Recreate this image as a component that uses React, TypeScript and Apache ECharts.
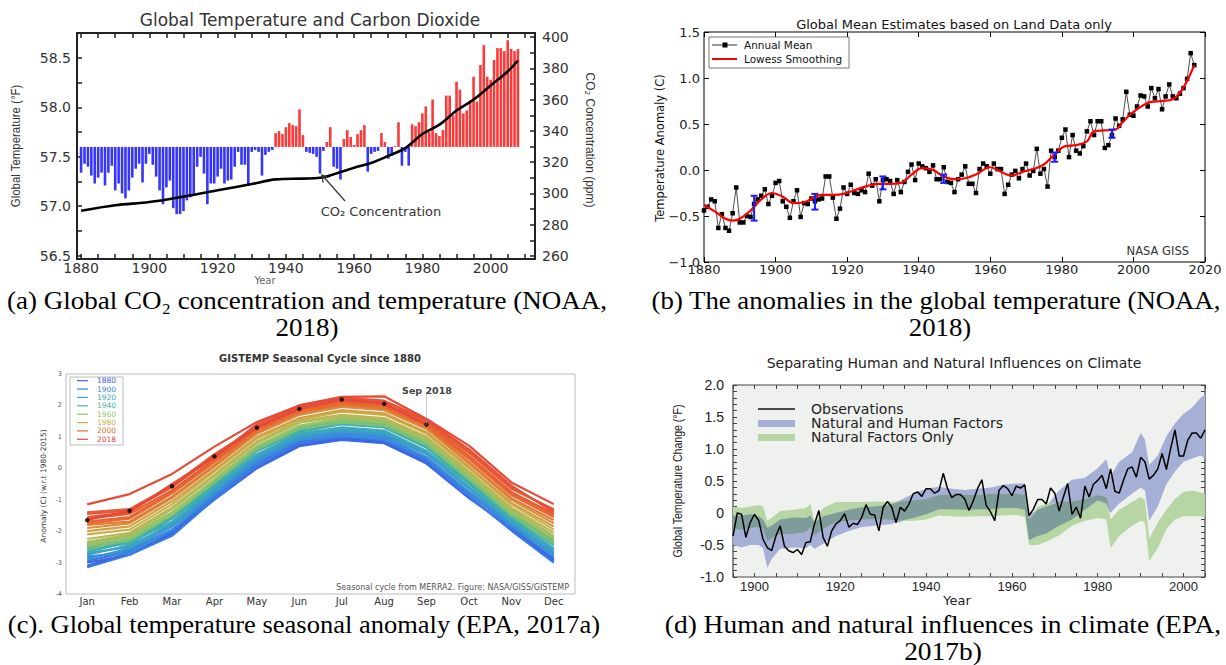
import React, { useEffect, useRef } from 'react';
import * as echarts from 'echarts';

const SANS = '"Liberation Sans", Arial, sans-serif';
const DJV = '"DejaVu Sans", sans-serif';
const SERIF = '"Liberation Serif", "Times New Roman", serif';

// ================= (a) Global temperature and CO2 =================
const aFirstYear = 1880;
const aBaselineF = 57.6;
const aTempAnomalyF = [
  -0.26, -0.17, -0.2, -0.29, -0.37, -0.31, -0.26, -0.39, -0.26, -0.19,
  -0.44, -0.37, -0.47, -0.52, -0.44, -0.31, -0.22, -0.17, -0.36, -0.17,
  -0.07, -0.18, -0.3, -0.44, -0.58, -0.41, -0.34, -0.62, -0.68, -0.68,
  -0.65, -0.54, -0.51, -0.49, -0.2, -0.1, -0.27, -0.58, -0.37, -0.37,
  -0.3, -0.22, -0.37, -0.34, -0.33, -0.2, -0.05, -0.18, -0.18, -0.39,
  -0.05, -0.03, -0.05, -0.29, -0.08, -0.05, -0.03, 0.14, 0.16, 0.13,
  0.2, 0.24, 0.22, 0.21, 0.38, 0.12, -0.05, -0.06, -0.07, -0.1,
  -0.27, -0.04, 0.05, 0.2, -0.2, -0.22, -0.33, 0.08, 0.17, 0.1,
  0.02, 0.13, 0.17, 0.22, -0.25, -0.07, -0.05, -0.04, 0.14, 0.05,
  -0.12, -0.09, 0.01, 0.25, -0.19, -0.05, -0.19, 0.23, 0.21, 0.25,
  0.34, 0.41, 0.15, 0.48, 0.14, 0.11, 0.17, 0.52, 0.52, 0.32,
  0.66, 0.58, 0.34, 0.37, 0.47, 0.71, 0.46, 0.83, 1.03, 0.71,
  0.68, 0.88, 1.0, 1.0, 0.97, 1.08, 0.99, 0.97, 0.99,
];
const aCo2Years = [1880, 1890, 1900, 1910, 1920, 1930, 1937, 1945, 1950, 1955, 1960, 1965, 1970, 1975, 1980, 1985, 1990, 1995, 2000, 2005, 2008];
const aCo2Ppm = [289, 292.5, 294.5, 298, 302, 306, 309, 309.5, 310, 313, 316.5, 319.5, 324, 329, 338, 344, 353, 360, 369, 378, 385];
const aYearLabels = [1880, 1900, 1920, 1940, 1960, 1980, 2000];
const aTempLabels = [56.5, 57.0, 57.5, 58.0, 58.5];
const aCo2Labels = [260, 280, 300, 320, 340, 360, 380, 400];

// ================= (b) Land-only global mean =================
const bFirstYear = 1880;
const bAnnualMean = [
  -0.44, -0.4, -0.32, -0.34, -0.63, -0.48, -0.63, -0.66, -0.47, -0.19,
  -0.57, -0.57, -0.5, -0.51, -0.37, -0.32, -0.28, -0.21, -0.37, -0.28,
  -0.14, -0.12, -0.34, -0.4, -0.52, -0.34, -0.22, -0.51, -0.36, -0.37,
  -0.31, -0.34, -0.32, -0.31, -0.07, -0.07, -0.3, -0.53, -0.42, -0.19,
  -0.26, -0.16, -0.25, -0.26, -0.22, -0.24, -0.04, -0.17, -0.1, -0.34,
  -0.11, -0.1, -0.12, -0.26, -0.11, -0.24, -0.13, -0.02, 0.06, -0.11,
  0.07, 0.04, 0.02, -0.02, 0.05, -0.1, -0.1, 0.03, -0.13, -0.14,
  -0.24, -0.1, -0.05, 0.04, -0.15, -0.15, -0.25, 0.01, 0.07, 0.04,
  -0.04, 0.07, 0.01, 0.01, -0.26, -0.16, -0.05, -0.01, -0.09, 0.01,
  0.07, -0.06, -0.01, 0.23, -0.04, 0.01, -0.18, 0.21, 0.14, 0.21,
  0.35, 0.44, 0.14, 0.38, 0.21, 0.18, 0.26, 0.42, 0.53, 0.38,
  0.53, 0.53, 0.24, 0.27, 0.38, 0.56, 0.48, 0.55, 0.85, 0.6,
  0.59, 0.69, 0.81, 0.8, 0.69, 0.89, 0.78, 0.88, 0.66, 0.8,
  0.93, 0.8, 0.78, 0.83, 0.89, 0.99, 1.27, 1.14,
];
const bLowessYears = [1880, 1883, 1886, 1888, 1890, 1893, 1896, 1899, 1902, 1905, 1908, 1911, 1913, 1916, 1919, 1922, 1926, 1929, 1932, 1935, 1938, 1941, 1944, 1947, 1950, 1953, 1956, 1960, 1963, 1966, 1969, 1972, 1975, 1978, 1981, 1984, 1987, 1989, 1992, 1995, 1997, 1999, 2001, 2003, 2005, 2008, 2011, 2013, 2015, 2017];
const bLowessValues = [-0.38, -0.45, -0.53, -0.55, -0.53, -0.44, -0.32, -0.25, -0.29, -0.36, -0.35, -0.29, -0.27, -0.27, -0.26, -0.22, -0.17, -0.15, -0.15, -0.14, -0.05, 0.02, 0.0, -0.07, -0.1, -0.09, -0.05, 0.03, -0.02, -0.06, -0.02, 0.01, 0.06, 0.17, 0.26, 0.27, 0.31, 0.42, 0.43, 0.44, 0.52, 0.6, 0.66, 0.71, 0.74, 0.75, 0.77, 0.84, 0.97, 1.14];
const bErrYears = [1894, 1911, 1930, 1947, 1978, 1994];
const bErrLow = [-0.55, -0.43, -0.21, -0.14, 0.09, 0.35];
const bErrHigh = [-0.28, -0.26, -0.07, -0.05, 0.19, 0.44];
const bYAxisLabels = [-1, -0.5, 0, 0.5, 1, 1.5];

// ================= (c) GISTEMP seasonal cycle =================
const cMonths = ['Jan', 'Feb', 'Mar', 'Apr', 'May', 'Jun', 'Jul', 'Aug', 'Sep', 'Oct', 'Nov', 'Dec'];
const c1880 = [-3.1, -2.7, -2.1, -0.95, 0.05, 0.75, 0.95, 0.85, 0.2, -0.9, -1.95, -2.95];
const c1885 = [-3.0, -2.75, -2.05, -1.0, 0.0, 0.7, 0.9, 0.8, 0.15, -0.95, -1.9, -2.9];
const c1890 = [-2.95, -2.65, -2.0, -0.9, 0.15, 0.85, 1.0, 0.9, 0.3, -0.8, -1.85, -2.85];
const c1895 = [-3.15, -2.75, -2.15, -0.98, 0.08, 0.8, 1.0, 0.9, 0.25, -0.88, -1.98, -3.0];
const c1900 = [-2.85, -2.6, -1.95, -0.85, 0.2, 0.9, 1.1, 1.0, 0.35, -0.75, -1.8, -2.7];
const c1905 = [-2.8, -2.7, -1.95, -0.8, 0.25, 0.9, 1.05, 0.95, 0.35, -0.75, -1.85, -2.8];
const c1910 = [-2.9, -2.55, -1.85, -0.75, 0.3, 0.95, 1.15, 1.05, 0.45, -0.65, -1.75, -2.75];
const c1915 = [-2.75, -2.45, -1.8, -0.7, 0.35, 1.0, 1.2, 1.1, 0.5, -0.6, -1.7, -2.65];
const c1920 = [-2.7, -2.5, -1.75, -0.65, 0.4, 1.05, 1.25, 1.15, 0.5, -0.6, -1.7, -2.6];
const c1925 = [-2.65, -2.35, -1.7, -0.6, 0.45, 1.1, 1.3, 1.2, 0.55, -0.5, -1.65, -2.55];
const c1930 = [-2.55, -2.4, -1.6, -0.55, 0.55, 1.15, 1.4, 1.3, 0.65, -0.45, -1.6, -2.45];
const c1935 = [-2.5, -2.35, -1.55, -0.5, 0.55, 1.2, 1.45, 1.35, 0.7, -0.4, -1.55, -2.4];
const c1940 = [-2.45, -2.3, -1.5, -0.45, 0.6, 1.25, 1.5, 1.4, 0.75, -0.35, -1.5, -2.3];
const c1945 = [-2.35, -2.2, -1.45, -0.4, 0.65, 1.3, 1.55, 1.45, 0.8, -0.3, -1.45, -2.25];
const c1950 = [-2.6, -2.25, -1.45, -0.4, 0.65, 1.3, 1.5, 1.4, 0.8, -0.3, -1.45, -2.35];
const c1955 = [-2.5, -2.3, -1.5, -0.45, 0.6, 1.25, 1.45, 1.35, 0.75, -0.35, -1.5, -2.4];
const c1960 = [-2.4, -2.15, -1.4, -0.35, 0.7, 1.35, 1.55, 1.45, 0.85, -0.25, -1.4, -2.2];
const c1965 = [-2.45, -2.2, -1.45, -0.35, 0.7, 1.35, 1.6, 1.5, 0.9, -0.2, -1.35, -2.25];
const c1970 = [-2.35, -2.1, -1.3, -0.25, 0.8, 1.45, 1.65, 1.55, 0.95, -0.15, -1.3, -2.15];
const c1975 = [-2.25, -2.05, -1.25, -0.2, 0.85, 1.5, 1.7, 1.6, 1.0, -0.1, -1.25, -2.05];
const c1980 = [-2.1, -1.95, -1.15, -0.1, 0.95, 1.55, 1.8, 1.7, 1.1, 0.0, -1.15, -1.95];
const c1985 = [-2.0, -1.85, -1.05, -0.05, 1.0, 1.6, 1.85, 1.75, 1.15, 0.05, -1.1, -1.85];
const c1990 = [-1.9, -1.75, -0.95, 0.05, 1.1, 1.7, 1.95, 1.85, 1.25, 0.15, -1.0, -1.75];
const c1995 = [-1.8, -1.7, -0.9, 0.1, 1.15, 1.75, 2.0, 1.9, 1.3, 0.2, -0.95, -1.65];
const c2000 = [-1.75, -1.6, -0.8, 0.2, 1.2, 1.8, 2.05, 1.95, 1.35, 0.3, -0.85, -1.55];
const c2002 = [-1.7, -1.55, -0.75, 0.25, 1.25, 1.85, 2.1, 2.0, 1.4, 0.35, -0.8, -1.5];
const c2005 = [-1.6, -1.45, -0.7, 0.3, 1.3, 1.9, 2.15, 2.05, 1.45, 0.4, -0.75, -1.45];
const c2007 = [-1.4, -1.3, -0.55, 0.45, 1.3, 1.9, 2.15, 2.1, 1.5, 0.5, -0.65, -1.3];
const c2010 = [-1.45, -1.35, -0.6, 0.4, 1.35, 1.95, 2.2, 2.1, 1.5, 0.55, -0.6, -1.35];
const c2012 = [-1.55, -1.4, -0.5, 0.35, 1.4, 2.0, 2.25, 2.15, 1.55, 0.6, -0.55, -1.4];
const c2016 = [-1.15, -0.82, -0.18, 0.69, 1.47, 2.0, 2.27, 2.29, 1.57, 0.72, -0.45, -1.14];
const c2018 = [-1.65, -1.35, -0.57, 0.38, 1.29, 1.89, 2.19, 2.05, 1.39];
const cLineYears = [1880, 1885, 1890, 1895, 1900, 1905, 1910, 1915, 1920, 1925, 1930, 1935, 1940, 1945, 1950, 1955, 1960, 1965, 1970, 1975, 1980, 1985, 1990, 1995, 2000, 2002, 2005, 2007, 2010, 2012, 2016];
const cLines = [c1880, c1885, c1890, c1895, c1900, c1905, c1910, c1915, c1920, c1925, c1930, c1935, c1940, c1945, c1950, c1955, c1960, c1965, c1970, c1975, c1980, c1985, c1990, c1995, c2000, c2002, c2005, c2007, c2010, c2012, c2016];
const cLegendYears = [1880, 1900, 1920, 1940, 1960, 1980, 2000, 2018];

// ================= (d) Human vs natural =================
const dFirstYear = 1895;
const dObservations = [
  -0.36, 0.0, -0.02, -0.38, -0.15,
  -0.02, -0.12, -0.41, -0.54, -0.59, -0.36, -0.2, -0.52, -0.59, -0.62,
  -0.57, -0.65, -0.46, -0.45, -0.17, 0.04, -0.38, -0.52, -0.28, -0.17,
  -0.12, -0.01, -0.22, -0.16, -0.18, -0.07, 0.13, -0.02, -0.03, -0.28,
  0.09, 0.18, 0.09, -0.15, 0.09, 0.03, 0.14, 0.3, 0.33, 0.26,
  0.38, 0.38, 0.31, 0.35, 0.62, 0.38, 0.24, 0.29, 0.29, 0.22,
  0.04, 0.19, 0.38, 0.52, 0.12, 0.02, -0.12, 0.35, 0.43, 0.38,
  0.27, 0.42, 0.39, 0.44, -0.04, 0.06, 0.21, 0.21, 0.14, 0.39,
  0.31, 0.03, 0.25, 0.46, -0.02, 0.09, -0.08, 0.42, 0.25, 0.45,
  0.51, 0.59, 0.38, 0.69, 0.34, 0.31, 0.51, 0.69, 0.72, 0.56,
  0.87, 0.8, 0.53, 0.59, 0.69, 0.93, 0.68, 1.01, 1.3, 0.89,
  0.89, 1.14, 1.25, 1.25, 1.17, 1.3,
];
const dBandYears = [1895, 1897, 1899, 1901, 1902, 1903, 1904, 1906, 1909, 1912, 1913, 1914, 1916, 1919, 1922, 1925, 1928, 1931, 1934, 1937, 1940, 1943, 1946, 1949, 1952, 1955, 1958, 1961, 1963, 1964, 1966, 1968, 1971, 1974, 1977, 1980, 1982, 1983, 1985, 1988, 1990, 1991, 1992, 1994, 1996, 1998, 2000, 2002, 2004, 2005];
const dHumanLow = [-0.5, -0.54, -0.5, -0.5, -0.55, -0.86, -0.72, -0.56, -0.54, -0.55, -0.5, -0.56, -0.48, -0.36, -0.28, -0.22, -0.2, -0.18, -0.14, -0.08, -0.02, 0.06, 0.06, 0.05, 0.06, 0.06, 0.08, 0.08, 0.05, -0.42, -0.36, -0.32, -0.2, -0.1, 0.05, 0.2, 0.15, 0.0, 0.15, 0.3, 0.4, 0.35, -0.12, 0.1, 0.45, 0.65, 0.8, 0.85, 0.9, 0.85];
const dHumanHigh = [-0.04, -0.04, -0.02, -0.05, -0.1, -0.23, -0.2, -0.1, -0.07, -0.08, -0.04, -0.15, -0.05, 0.0, 0.05, 0.09, 0.1, 0.12, 0.2, 0.3, 0.38, 0.41, 0.38, 0.36, 0.38, 0.4, 0.44, 0.46, 0.46, -0.02, 0.05, 0.1, 0.35, 0.52, 0.55, 0.7, 0.84, 0.58, 0.8, 0.95, 1.25, 1.15, 0.75, 0.9, 1.2, 1.4, 1.55, 1.65, 1.8, 1.85];
const dNaturalLow = [-0.25, -0.26, -0.24, -0.22, -0.25, -0.44, -0.4, -0.33, -0.33, -0.3, -0.22, -0.35, -0.25, -0.14, -0.12, -0.1, -0.1, -0.1, -0.12, -0.12, -0.1, -0.04, -0.05, -0.06, -0.05, -0.05, -0.04, -0.03, -0.06, -0.5, -0.5, -0.45, -0.35, -0.2, -0.12, -0.08, -0.1, -0.55, -0.36, -0.2, -0.12, -0.15, -0.75, -0.55, -0.25, -0.1, -0.05, -0.05, -0.05, -0.08];
const dNaturalHigh = [0.1, 0.08, 0.1, 0.12, 0.1, -0.12, -0.08, 0.03, 0.05, 0.08, 0.14, -0.12, 0.08, 0.17, 0.17, 0.17, 0.18, 0.17, 0.18, 0.2, 0.22, 0.28, 0.28, 0.28, 0.28, 0.3, 0.3, 0.3, 0.28, -0.1, 0.1, 0.14, 0.17, 0.18, 0.22, 0.28, 0.25, -0.1, 0.05, 0.17, 0.25, 0.2, -0.4, -0.15, 0.05, 0.22, 0.33, 0.35, 0.32, 0.3];
const dYearLabels = [1900, 1920, 1940, 1960, 1980, 2000];
const dTempLabels = [-1, -0.5, 0, 0.5, 1, 1.5, 2];

// ================= helpers (styling only) =================
const range = (a: number, b: number, s: number) => {
  const out: number[] = [];
  for (let v = a; v <= b + 1e-9; v += s) out.push(Math.round(v * 1000) / 1000);
  return out;
};
const PALETTE: [number, string][] = [
  [1880, '#3b5ee6'], [1900, '#3a85e0'], [1920, '#39a5c4'], [1940, '#47b59a'],
  [1960, '#8fc46c'], [1980, '#c9b24c'], [2000, '#e86a30'], [2018, '#e6463a'],
];
const hex = (c: string) => [1, 3, 5].map((i) => parseInt(c.slice(i, i + 2), 16));
const colorFor = (year: number) => {
  for (let i = 0; i < PALETTE.length - 1; i++) {
    const [y0, c0] = PALETTE[i];
    const [y1, c1] = PALETTE[i + 1];
    if (year <= y1) {
      const t = Math.max(0, (year - y0) / (y1 - y0));
      const a = hex(c0), b = hex(c1);
      const m = a.map((v, k) => Math.round(v + (b[k] - v) * t));
      return `rgb(${m[0]},${m[1]},${m[2]})`;
    }
  }
  return PALETTE[PALETTE.length - 1][1];
};

const T = (x: number, y: number, text: string, o: any = {}) => ({
  type: 'text', x, y, rotation: o.rot || 0, scaleX: o.sx || 1, scaleY: o.sy || 1, silent: true, z: 100,
  style: {
    text, fill: o.fill || '#222', fontSize: o.size || 12, fontFamily: o.font || SANS,
    fontWeight: o.weight || 'normal', align: o.align || 'center', verticalAlign: o.va || 'middle',
  },
});

const NOLINE = { show: false, onZero: false };
const tickOnly = (base: any) => ({
  ...base,
  axisLine: NOLINE,
  splitLine: { show: false },
  axisLabel: { show: false },
});
const plain = (v: number) => String(v);

function buildOption() {
  const BLUE = '#3535fb';
  const RED = '#fb3a3a';
  const BAND_H = '#a6afd6';
  const BAND_N = '#b8d5a6';
  const BAND_O = '#7e9d9a';

  const overlapLow = dBandYears.map((_, i) => Math.max(dHumanLow[i], dNaturalLow[i]));
  const overlapHigh = dBandYears.map((_, i) => Math.max(overlapLow[i], Math.min(dHumanHigh[i], dNaturalHigh[i])));

  const band = (lo: number[], hi: number[], color: string, z: number) => ({
    type: 'custom', xAxisIndex: 6, yAxisIndex: 7, z, silent: true, clip: true,
    data: dBandYears.map((y, i) => [y, lo[i], hi[i]]),
    encode: { x: 0, y: [1, 2] },
    renderItem: (params: any, api: any) => {
      if (params.dataIndex !== 0) return undefined;
      const upper = dBandYears.map((y, i) => api.coord([y, hi[i]]));
      const lower = dBandYears.map((y, i) => api.coord([y, lo[i]])).reverse();
      return { type: 'polygon', shape: { points: upper.concat(lower) }, style: { fill: color } };
    },
  });

  const cSeries: any[] = cLines.map((vals, i) => ({
    type: 'line', xAxisIndex: 4, yAxisIndex: 5, data: vals, showSymbol: false, silent: true,
    lineStyle: { color: colorFor(cLineYears[i]), width: 2.2 }, z: 2 + i * 0.01,
  }));
  cSeries.push({
    type: 'line', xAxisIndex: 4, yAxisIndex: 5, data: c2018, showSymbol: false, silent: true,
    lineStyle: { color: colorFor(2018), width: 2 }, z: 3,
  });
  cSeries.push({
    type: 'scatter', xAxisIndex: 4, yAxisIndex: 5, data: c2018, symbolSize: 4.5, silent: true,
    itemStyle: { color: '#000' }, z: 4,
    markLine: {
      silent: true, symbol: ['none', 'none'], label: { show: false },
      lineStyle: { type: 'dotted', color: '#999', width: 1 },
      data: [[{ coord: ['Sep', c2018[8]] }, { coord: ['Sep', 2.4] }]],
    },
  });

  const CAP = { font: SERIF, size: 26, fill: '#000' };
  const graphic: any[] = [
    // (a)
    T(310, 20, 'Global Temperature and Carbon Dioxide', { font: DJV, size: 17, fill: '#333' }),
    T(16, 146, 'Global Temperature (°F)', { rot: Math.PI / 2, size: 13, sx: 0.88, fill: '#333' }),
    T(590, 140, 'CO₂ Concentration (ppm)', { rot: -Math.PI / 2, size: 13, sx: 0.92, fill: '#333' }),
    T(381, 211, 'CO₂ Concentration', { font: DJV, size: 13, fill: '#333' }),
    { type: 'line', silent: true, z: 100, shape: { x1: 345, y1: 201, x2: 322, y2: 175 }, style: { stroke: '#333', lineWidth: 1.2 } },
    { type: 'polyline', silent: true, z: 100, shape: { points: [[328.3, 177.9], [322, 175], [323.1, 182.6]] }, style: { stroke: '#333', lineWidth: 1.2, fill: 'none' } },
    T(265, 280, 'Year', { font: DJV, size: 10, fill: '#666' }),
    // (b)
    T(954, 24, 'Global Mean Estimates based on Land Data only', { font: DJV, size: 13, fill: '#111' }),
    T(660, 148, 'Temperature Anomaly (C)', { rot: Math.PI / 2, font: DJV, size: 11.5, fill: '#111' }),
    { type: 'rect', silent: true, z: 100, shape: { x: 709, y: 37, width: 140, height: 31 }, style: { fill: '#fff', stroke: '#555', lineWidth: 0.8 } },
    { type: 'line', silent: true, z: 101, shape: { x1: 712, y1: 45, x2: 737, y2: 45 }, style: { stroke: '#000', lineWidth: 0.8 } },
    { type: 'rect', silent: true, z: 101, shape: { x: 722.5, y: 42.5, width: 5, height: 5 }, style: { fill: '#000' } },
    T(744, 45, 'Annual Mean', { font: DJV, size: 10.5, align: 'left', fill: '#111' }),
    { type: 'line', silent: true, z: 101, shape: { x1: 712, y1: 59, x2: 737, y2: 59 }, style: { stroke: '#f00', lineWidth: 2 } },
    T(744, 59, 'Lowess Smoothing', { font: DJV, size: 10.5, align: 'left', fill: '#111' }),
    T(1189, 251, 'NASA GISS', { font: DJV, size: 11.5, align: 'right', fill: '#333' }),
    // (c)
    T(320, 358, 'GISTEMP Seasonal Cycle since 1880', { font: DJV, size: 10, weight: 'bold', fill: '#333' }),
    T(43, 486, 'Anomaly (C) (w.r.t 1980-2015)', { rot: Math.PI / 2, font: DJV, size: 7.5, fill: '#333' }),
    { type: 'rect', silent: true, z: 100, shape: { x: 70, y: 377, width: 53, height: 68 }, style: { fill: '#fff', stroke: '#aaa', lineWidth: 0.8 } },
    T(427, 390, 'Sep 2018', { font: DJV, size: 9.5, weight: 'bold', fill: '#444' }),
    T(569, 587, 'Seasonal cycle from MERRA2. Figure: NASA/GISS/GISTEMP', { font: DJV, size: 8, align: 'right', fill: '#555' }),
    // (d)
    T(954, 363, 'Separating Human and Natural Influences on Climate', { font: DJV, size: 14, fill: '#222' }),
    T(678, 481, 'Global Temperature Change (°F)', { rot: Math.PI / 2, size: 12, sx: 0.88, fill: '#222' }),
    { type: 'line', silent: true, z: 100, shape: { x1: 758, y1: 409, x2: 795, y2: 409 }, style: { stroke: '#111', lineWidth: 1.5 } },
    T(811, 409, 'Observations', { font: DJV, size: 14, align: 'left', fill: '#222' }),
    { type: 'rect', silent: true, z: 100, shape: { x: 758, y: 420, width: 37, height: 7 }, style: { fill: BAND_H } },
    T(811, 423, 'Natural and Human Factors', { font: DJV, size: 14, align: 'left', fill: '#222' }),
    { type: 'rect', silent: true, z: 100, shape: { x: 758, y: 434, width: 37, height: 7 }, style: { fill: BAND_N } },
    T(811, 437, 'Natural Factors Only', { font: DJV, size: 14, align: 'left', fill: '#222' }),
    T(957, 600, 'Year', { font: DJV, size: 13, fill: '#222' }),
    // captions
    T(307, 300, '(a) Global CO₂ concentration and temperature (NOAA,', { ...CAP, sx: 1.04 }),
    T(307, 327, '2018)', { ...CAP, sx: 1.04 }),
    T(936, 300, '(b) The anomalies in the global temperature (NOAA,', { ...CAP, sx: 1.03 }),
    T(940, 327, '2018)', { ...CAP, sx: 1.03 }),
    T(304, 625, '(c). Global temperature seasonal anomaly (EPA, 2017a)', { ...CAP, sx: 1.02 }),
    T(943, 624, '(d) Human and natural influences in climate (EPA,', { ...CAP, sx: 1.055 }),
    T(943, 651, '2017b)', { ...CAP, sx: 1.055 }),
  ];
  cLegendYears.forEach((yr, i) => {
    const y = 380.7 + i * 8.37;
    const col = colorFor(yr);
    graphic.push({ type: 'line', silent: true, z: 101, shape: { x1: 77, y1: y, x2: 88, y2: y }, style: { stroke: col, lineWidth: 1.2 } });
    graphic.push(T(97, y, String(yr), { font: DJV, size: 7.5, align: 'left', fill: col }));
  });

  const aTick = { inside: true, length: 5, lineStyle: { color: '#222', width: 1.5 } };
  const bTick = { inside: true, length: 5, lineStyle: { color: '#000', width: 1 } };
  const cTick = { inside: true, length: 3, lineStyle: { color: '#aaa', width: 1 } };
  const dTick = { inside: true, length: 4, lineStyle: { color: '#444', width: 1 } };
  const noSplit = { show: false };

  return {
    animation: false,
    backgroundColor: '#fff',
    grid: [
      { left: 77, top: 33, width: 458, height: 226, show: true, borderColor: '#222', borderWidth: 2, backgroundColor: 'transparent', outerBoundsMode: 'none' },
      { left: 704, top: 32, width: 501, height: 230, show: true, borderColor: '#000', borderWidth: 1, backgroundColor: 'transparent', outerBoundsMode: 'none' },
      { left: 66, top: 374, width: 509, height: 220, show: true, borderColor: '#bbb', borderWidth: 1, backgroundColor: 'transparent', outerBoundsMode: 'none' },
      { left: 733, top: 385, width: 472, height: 192, show: true, borderColor: '#444', borderWidth: 1.2, backgroundColor: '#eff1ef', outerBoundsMode: 'none' },
    ],
    xAxis: [
      {
        gridIndex: 0, type: 'value', min: 1878.8, max: 2013, position: 'bottom',
        axisLine: NOLINE, splitLine: noSplit,
        axisTick: { ...aTick, customValues: range(1880, 2010, 5) },
        axisLabel: { customValues: aYearLabels, formatter: plain, fontSize: 14, fontFamily: DJV, color: '#333', margin: 2 },
      },
      tickOnly({ gridIndex: 0, type: 'value', min: 1878.8, max: 2013, position: 'top', axisTick: { ...aTick, customValues: range(1880, 2010, 5) } }),
      {
        gridIndex: 1, type: 'value', min: 1880, max: 2020, interval: 20, position: 'bottom',
        axisLine: NOLINE, splitLine: noSplit, axisTick: bTick,
        axisLabel: { formatter: plain, fontSize: 13, fontFamily: DJV, color: '#222', margin: 1 },
      },
      tickOnly({ gridIndex: 1, type: 'value', min: 1880, max: 2020, interval: 20, position: 'top', axisTick: bTick }),
      {
        gridIndex: 2, type: 'category', data: cMonths, boundaryGap: true, position: 'bottom',
        axisLine: NOLINE, splitLine: noSplit, axisTick: { ...cTick, alignWithLabel: true },
        axisLabel: { fontSize: 10, fontFamily: DJV, color: '#333', margin: 2 },
      },
      tickOnly({ gridIndex: 2, type: 'category', data: cMonths, boundaryGap: true, position: 'top', axisTick: { ...cTick, alignWithLabel: true } }),
      {
        gridIndex: 3, type: 'value', min: 1895, max: 2005, position: 'bottom',
        axisLine: NOLINE, splitLine: noSplit,
        axisTick: { ...dTick, customValues: range(1895, 2005, 5) },
        axisLabel: { customValues: dYearLabels, formatter: plain, fontSize: 13, fontFamily: SANS, color: '#222', margin: 3 },
      },
      tickOnly({ gridIndex: 3, type: 'value', min: 1895, max: 2005, position: 'top', axisTick: { ...dTick, customValues: range(1895, 2005, 5) } }),
    ],
    yAxis: [
      {
        gridIndex: 0, type: 'value', min: 56.466, max: 58.753, position: 'left',
        axisLine: NOLINE, splitLine: noSplit,
        axisTick: { ...aTick, customValues: range(56.5, 58.5, 0.25) },
        axisLabel: { customValues: aTempLabels, formatter: (v: number) => v.toFixed(1), fontSize: 14, fontFamily: DJV, color: '#333', margin: 6 },
      },
      {
        gridIndex: 0, type: 'value', min: 258.1, max: 402.6, position: 'right',
        axisLine: NOLINE, splitLine: noSplit,
        axisTick: { ...aTick, customValues: range(260, 400, 10) },
        axisLabel: { customValues: aCo2Labels, formatter: plain, fontSize: 14, fontFamily: DJV, color: '#333', margin: 7 },
      },
      { gridIndex: 0, type: 'value', min: 56.466 - aBaselineF, max: 58.753 - aBaselineF, show: false, axisLine: NOLINE, splitLine: noSplit },
      {
        gridIndex: 1, type: 'value', min: -1, max: 1.5, interval: 0.5, position: 'left',
        axisLine: NOLINE, splitLine: noSplit, axisTick: bTick,
        axisLabel: { customValues: bYAxisLabels, formatter: (v: number) => v.toFixed(1).replace('-', '\u2212'), fontSize: 13, fontFamily: DJV, color: '#222', margin: 4 },
      },
      tickOnly({ gridIndex: 1, type: 'value', min: -1, max: 1.5, interval: 0.5, position: 'right', axisTick: bTick }),
      {
        gridIndex: 2, type: 'value', min: -4, max: 3, interval: 1, position: 'left',
        axisLine: NOLINE, splitLine: noSplit, axisTick: cTick,
        axisLabel: { fontSize: 6.5, fontFamily: DJV, color: '#555', margin: 4 },
      },
      tickOnly({ gridIndex: 2, type: 'value', min: -4, max: 3, interval: 1, position: 'right', axisTick: cTick }),
      {
        gridIndex: 3, type: 'value', min: -1, max: 2, position: 'left',
        axisLine: NOLINE, splitLine: noSplit,
        axisTick: { ...dTick, customValues: range(-1, 2, 0.1) },
        axisLabel: { customValues: dTempLabels, formatter: (v: number) => (Math.abs(v) < 1e-9 ? '0' : v.toFixed(1)), fontSize: 14, fontFamily: SANS, color: '#222', margin: 9 },
      },
      tickOnly({ gridIndex: 3, type: 'value', min: -1, max: 2, position: 'right', axisTick: { ...dTick, customValues: range(-1, 2, 0.1) } }),
    ],
    series: [
      // (a)
      {
        type: 'bar', xAxisIndex: 0, yAxisIndex: 2, barWidth: 2.6, silent: true,
        data: aTempAnomalyF.map((v, i) => ({ value: [aFirstYear + i, v], itemStyle: { color: v >= 0 ? RED : BLUE } })),
      },
      {
        type: 'line', xAxisIndex: 0, yAxisIndex: 1, smooth: 0.35, showSymbol: false, silent: true, z: 5,
        data: aCo2Years.map((y, i) => [y, aCo2Ppm[i]]),
        lineStyle: { color: '#000', width: 2.6 },
      },
      // (b)
      {
        type: 'line', xAxisIndex: 2, yAxisIndex: 3, silent: true, z: 3,
        data: bAnnualMean.map((v, i) => [bFirstYear + i, v]),
        symbol: 'rect', symbolSize: 4.5, showSymbol: true,
        itemStyle: { color: '#000' }, lineStyle: { color: '#222', width: 0.8 },
      },
      {
        type: 'line', xAxisIndex: 2, yAxisIndex: 3, silent: true, z: 4, smooth: 0.4, showSymbol: false,
        data: bLowessYears.map((y, i) => [y, bLowessValues[i]]),
        lineStyle: { color: '#ff0000', width: 2.2 },
      },
      {
        type: 'custom', xAxisIndex: 2, yAxisIndex: 3, silent: true, z: 5,
        data: bErrYears.map((y, i) => [y, bErrLow[i], bErrHigh[i]]),
        encode: { x: 0, y: [1, 2] },
        renderItem: (params: any, api: any) => {
          const x = api.value(0);
          const top = api.coord([x, api.value(2)]);
          const bot = api.coord([x, api.value(1)]);
          const w = 3.5;
          const st = { stroke: '#1a1aff', lineWidth: 2 };
          return {
            type: 'group',
            children: [
              { type: 'line', shape: { x1: top[0], y1: top[1], x2: bot[0], y2: bot[1] }, style: st },
              { type: 'line', shape: { x1: top[0] - w, y1: top[1], x2: top[0] + w, y2: top[1] }, style: st },
              { type: 'line', shape: { x1: bot[0] - w, y1: bot[1], x2: bot[0] + w, y2: bot[1] }, style: st },
            ],
          };
        },
      },
      // (c)
      ...cSeries,
      // (d)
      band(dHumanLow, dHumanHigh, BAND_H, 1),
      band(dNaturalLow, dNaturalHigh, BAND_N, 1.1),
      band(overlapLow, overlapHigh, BAND_O, 1.2),
      {
        type: 'line', xAxisIndex: 6, yAxisIndex: 7, silent: true, z: 5, showSymbol: false,
        data: dObservations.map((v, i) => [dFirstYear + i, v]),
        lineStyle: { color: '#000', width: 1.5 },
      },
    ],
    graphic,
  };
}

export default function App() {
  const ref = useRef<HTMLDivElement>(null);
  useEffect(() => {
    if (!ref.current) return;
    const chart = echarts.init(ref.current, null, { renderer: 'svg' });
    chart.setOption(buildOption() as any);
    return () => chart.dispose();
  }, []);
  return <div ref={ref} style={{ position: 'absolute', left: 0, top: 0, width: 1226, height: 665, background: '#fff' }} />;
}
